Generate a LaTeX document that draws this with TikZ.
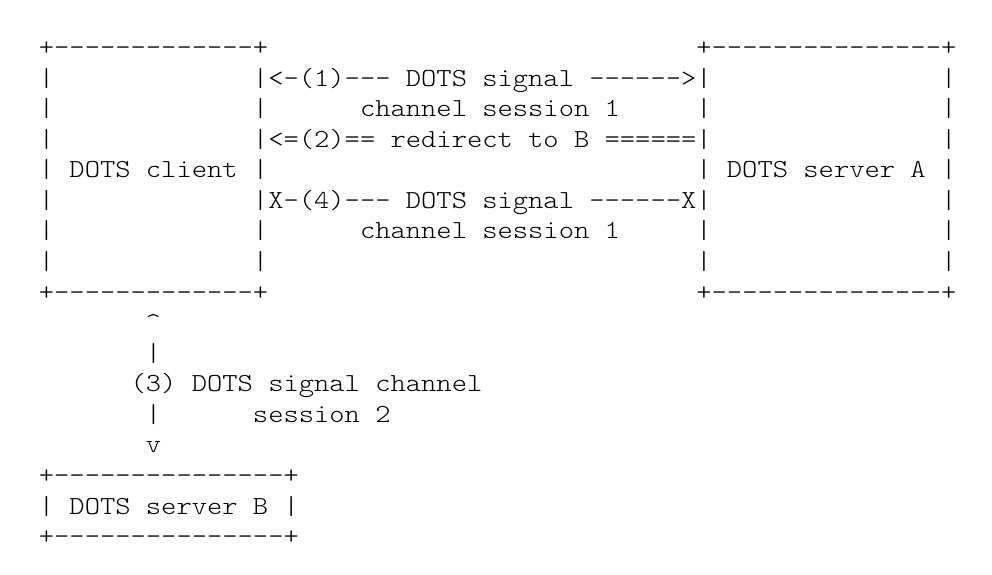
\documentclass[tikz,border=0pt]{standalone}
\usepackage{fontspec}
\newcommand\asciifont{\fontfamily{lmtt}\fontseries{l}\fontshape{n}\fontsize{26}{30.56}\selectfont}
\tikzset{asc/.style={anchor=base west, inner sep=0pt, outer sep=0pt, text=black,
  xscale=1.1202, transform shape, font=\asciifont}}
\begin{document}
\begin{tikzpicture}[x=1pt,y=-1pt]
\useasboundingbox (0,0) rectangle (992,574);
\node[asc] (l0)  at (38.9, 55.60) {+-------------+~~~~~~~~~~~~~~~~~~~~~~~~~~~~+---------------+};
\node[asc] (l1)  at (38.9, 86.16) {|~~~~~~~~~~~~~|<-(1)---~DOTS~signal~------>|~~~~~~~~~~~~~~~|};
\node[asc] (l2)  at (38.9,116.72) {|~~~~~~~~~~~~~|~~~~~~channel~session~1~~~~~|~~~~~~~~~~~~~~~|};
\node[asc] (l3)  at (38.9,147.28) {|~~~~~~~~~~~~~|<=(2)==~redirect~to~B~======|~~~~~~~~~~~~~~~|};
\node[asc] (l4)  at (38.9,177.84) {|~DOTS~client~|~~~~~~~~~~~~~~~~~~~~~~~~~~~~|~DOTS~server~A~|};
\node[asc] (l5)  at (38.9,208.40) {|~~~~~~~~~~~~~|X-(4)---~DOTS~signal~------X|~~~~~~~~~~~~~~~|};
\node[asc] (l6)  at (38.9,238.96) {|~~~~~~~~~~~~~|~~~~~~channel~session~1~~~~~|~~~~~~~~~~~~~~~|};
\node[asc] (l7)  at (38.9,269.52) {|~~~~~~~~~~~~~|~~~~~~~~~~~~~~~~~~~~~~~~~~~~|~~~~~~~~~~~~~~~|};
\node[asc] (l8)  at (38.9,300.08) {+-------------+~~~~~~~~~~~~~~~~~~~~~~~~~~~~+---------------+};
\node[asc] (l9)  at (38.9,330.64) {~~~~~~~\textasciicircum};
\node[asc] (l10) at (38.9,361.20) {~~~~~~~|};
\node[asc] (l11) at (38.9,391.76) {~~~~~~(3)~DOTS~signal~channel};
\node[asc] (l12) at (38.9,422.32) {~~~~~~~|~~~~~~session~2};
\node[asc] (l13) at (38.9,452.88) {~~~~~~~v};
\node[asc] (l14) at (38.9,483.44) {+---------------+};
\node[asc] (l15) at (38.9,514.00) {|~DOTS~server~B~|};
\node[asc] (l16) at (38.9,544.56) {+---------------+};
\end{tikzpicture}
\end{document}
